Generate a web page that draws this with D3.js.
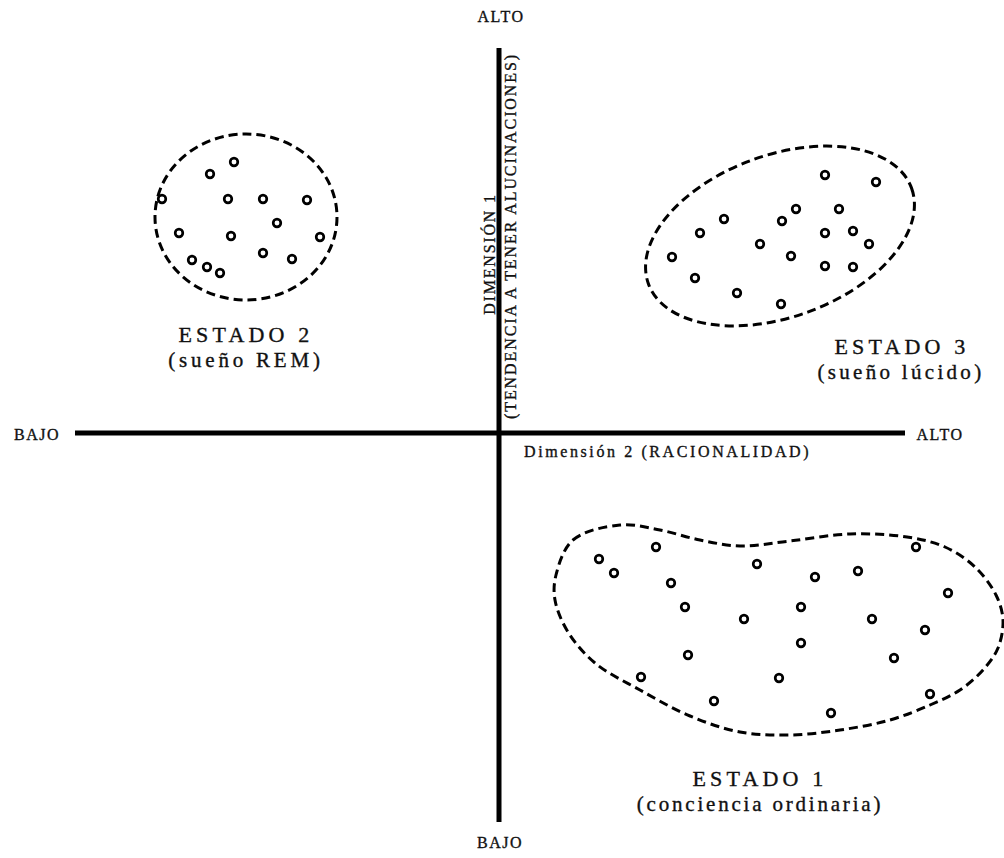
<!DOCTYPE html>
<html>
<head>
<meta charset="utf-8">
<script src="https://cdn.jsdelivr.net/npm/d3@7/dist/d3.min.js"></script>
<style>
  html, body { margin: 0; padding: 0; background: #fff; }
  svg text { font-family: "Liberation Serif", "DejaVu Serif", serif; fill: #111; stroke: #111; stroke-width: 0.35px; }
</style>
</head>
<body>
<div id="chart"></div>
<script>
// Coordinates are measured from the axis crossing (Dimensión 2 → x, Dimensión 1 → y)

// ESTADO 2 (sueño REM)
const rem = [
    [-265, 271], [-289, 259], [-337, 234], [-271, 234], [-236, 234], [-192, 233],
    [-222, 210], [-320, 200], [-268, 197], [-179, 196], [-236, 180], [-207, 174],
    [-307, 173], [-292, 166], [-279, 160]
];

// ESTADO 3 (sueño lúcido)
const lucido = [
    [326, 258], [377, 251], [297, 224], [340, 224], [225, 214], [283, 212],
    [201, 200], [326, 200], [354, 202], [261, 189], [370, 189], [173, 176],
    [292, 177], [326, 167], [354, 166], [196, 155], [238, 140], [282, 129]
];

// ESTADO 1 (conciencia ordinaria)
const ordinaria = [
    [157, -114], [417, -114], [100, -126], [258, -131], [115, -140], [359, -138],
    [316, -144], [172, -150], [449, -160], [186, -174], [302, -174], [245, -186],
    [373, -186], [426, -197], [302, -210], [189, -222], [395, -225], [142, -244],
    [280, -245], [215, -268], [431, -261], [332, -280]
];

// outline of the ESTADO 1 group
const ordinariaHull = [
    [57, -142], [74, -107], [121, -92], [161, -97], [201, -107], [241, -113],
    [291, -108], [351, -101], [408, -104], [446, -114], [476, -134], [497, -162],
    [504, -187], [499, -215], [484, -237], [461, -257], [431, -272], [391, -287],
    [341, -297], [291, -302], [241, -299], [191, -283], [141, -257], [96, -230],
    [69, -199], [56, -167]
];

// ellipses round ESTADO 2 and ESTADO 3: center x, center y, rx, ry, angle
const remEllipse = [-253, 216, 91, 83, 0];
const lucidoEllipse = [281, 197, 140, 81, -20];

// axis extents
const xExtent = [-424, 406];
const yExtent = [385, -389];

const width = 1004, height = 858;

const svg = d3.select("#chart").append("svg")
    .attr("width", width)
    .attr("height", height);

const x = d3.scaleLinear().domain([-499, 505]).range([0, width]);
const y = d3.scaleLinear().domain([433, -425]).range([0, height]);

// axes
svg.append("line")
    .attr("x1", x(xExtent[0])).attr("x2", x(xExtent[1]))
    .attr("y1", y(0)).attr("y2", y(0))
    .attr("stroke", "#000").attr("stroke-width", 5);

svg.append("line")
    .attr("x1", x(0)).attr("x2", x(0))
    .attr("y1", y(yExtent[0])).attr("y2", y(yExtent[1]))
    .attr("stroke", "#000").attr("stroke-width", 5);

// group outlines
const dash = "9,5";

[remEllipse, lucidoEllipse].forEach(e => {
    svg.append("ellipse")
        .attr("cx", 0).attr("cy", 0)
        .attr("rx", x(e[2]) - x(0))
        .attr("ry", y(0) - y(e[3]))
        .attr("transform", `translate(${x(e[0])},${y(e[1])}) rotate(${e[4]})`)
        .attr("fill", "none")
        .attr("stroke", "#000")
        .attr("stroke-width", 3)
        .attr("stroke-dasharray", dash);
});

const hullLine = d3.line()
    .x(d => x(d[0]))
    .y(d => y(d[1]))
    .curve(d3.curveCatmullRomClosed);

svg.append("path")
    .datum(ordinariaHull)
    .attr("d", hullLine)
    .attr("fill", "none")
    .attr("stroke", "#000")
    .attr("stroke-width", 3)
    .attr("stroke-dasharray", dash);

// points
svg.selectAll(".dot")
    .data([...rem, ...lucido, ...ordinaria])
    .enter()
    .append("circle")
    .attr("class", "dot")
    .attr("cx", d => x(d[0]))
    .attr("cy", d => y(d[1]))
    .attr("r", 3.8)
    .attr("fill", "#fff")
    .attr("stroke", "#000")
    .attr("stroke-width", 2.7);

// text helper
function label(txt, px, py, size, spacing, anchor, rotate) {
    const t = svg.append("text")
        .attr("x", px).attr("y", py)
        .attr("text-anchor", anchor || "middle")
        .style("font-size", size + "px")
        .style("letter-spacing", spacing + "px")
        .text(txt);
    if (rotate) t.attr("transform", `rotate(${rotate},${px},${py})`);
    return t;
}

// axis ends
label("ALTO", x(2), y(411), 16, 1.5);
label("BAJO", x(1), y(-415), 16, 1.5);
label("BAJO", x(-462), y(-7), 16, 1.5);
label("ALTO", x(441), y(-7), 16, 1.5);

label("Dimensión 2 (RACIONALIDAD)", x(25), y(-24), 16, 2.6, "start");
label("DIMENSIÓN 1", x(-4), y(179), 16, 1.8, "middle", -90);
label("(TENDENCIA A TENER ALUCINACIONES)", x(17), y(197), 16, 1.9, "middle", -90);

// group names
label("ESTADO 2", x(-253), y(91), 22, 4.2);
label("(sueño REM)", x(-253), y(66), 21, 3.8);
label("ESTADO 3", x(403), y(79), 22, 4.2);
label("(sueño lúcido)", x(402), y(54), 21, 3.3);
label("ESTADO 1", x(261), y(-353), 22, 4.2);
label("(conciencia ordinaria)", x(261), y(-378), 21, 2.8);
</script>
</body>
</html>
